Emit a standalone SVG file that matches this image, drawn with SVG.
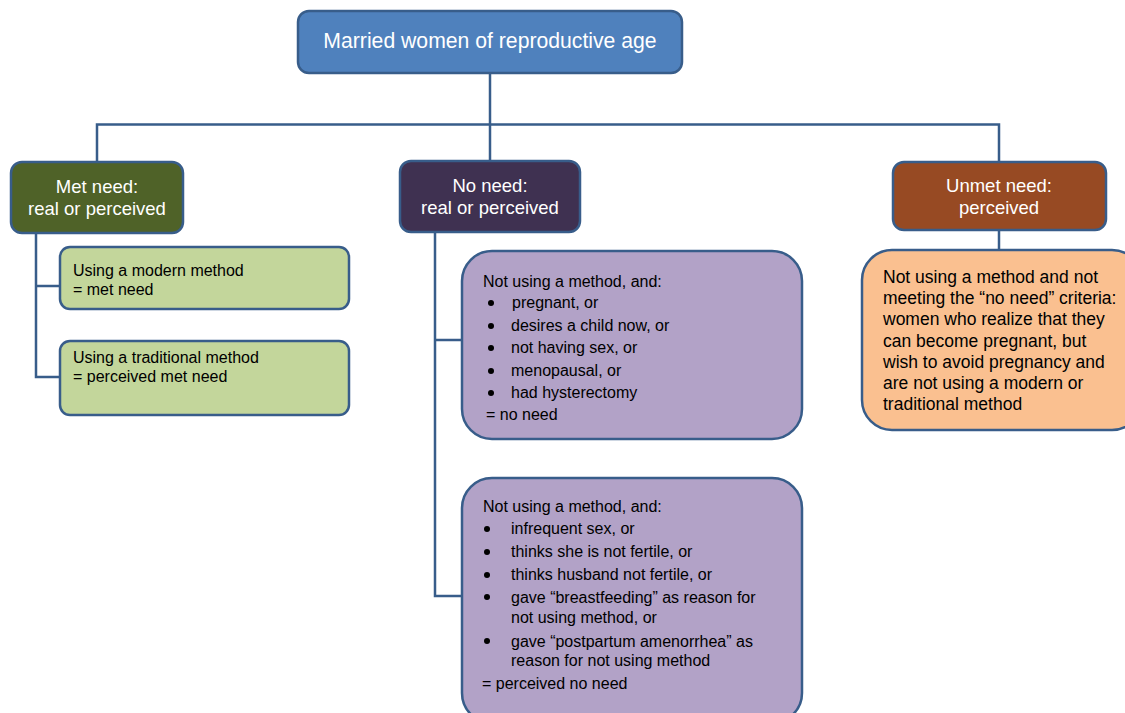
<svg xmlns="http://www.w3.org/2000/svg" width="1125" height="713" viewBox="0 0 1125 713">
<style>
.box{stroke:#385D8A;stroke-width:2.5}
.conn{fill:none;stroke:#385D8A;stroke-width:2.5}
.hdr{font-family:"Liberation Sans",Arial,sans-serif;font-size:18.5px;fill:#ffffff;text-anchor:middle}
.title{font-family:"Liberation Sans",Arial,sans-serif;font-size:21.2px;fill:#ffffff;text-anchor:middle}
.t15{font-family:"Liberation Sans",Arial,sans-serif;font-size:16px;fill:#000000}
.u{font-family:"Liberation Sans",Arial,sans-serif;font-size:17.5px;fill:#000000}
</style>
<rect width="1125" height="713" fill="#ffffff"/>
<g id="connectors">
<path class="conn" d="M490 73 V161"/>
<path class="conn" d="M97 162 V124.5 H999 V162"/>
<path class="conn" d="M36 233 V377 H60 M36 286 H60"/>
<path class="conn" d="M435 232 V596 H462 M435 340 H462"/>
<path class="conn" d="M999 230 V250"/>
</g>
<g id="root">
<rect class="box" x="298" y="11" width="384" height="62" rx="11" fill="#4F81BD"/>
<text class="title" x="490" y="48">Married women of reproductive age</text>
</g>
<g id="met">
<rect class="box" x="11" y="162" width="172" height="71" rx="11" fill="#4F6228"/>
<text class="hdr" x="97" y="193">Met need:</text>
<text class="hdr" x="97" y="215">real or perceived</text>
</g>
<g id="noneed">
<rect class="box" x="400" y="161" width="180" height="71" rx="11" fill="#3F3151"/>
<text class="hdr" x="490" y="192">No need:</text>
<text class="hdr" x="490" y="214">real or perceived</text>
</g>
<g id="unmet">
<rect class="box" x="893" y="162" width="213" height="68" rx="11" fill="#974A23"/>
<text class="hdr" x="999" y="192">Unmet need:</text>
<text class="hdr" x="999" y="214">perceived</text>
</g>
<g id="modern">
<rect class="box" x="60" y="247" width="289" height="62" rx="10" fill="#C3D69B"/>
<text class="t15" x="73" y="276">Using a modern method</text>
<text class="t15" x="73" y="295">= met need</text>
</g>
<g id="traditional">
<rect class="box" x="60" y="341" width="289" height="74" rx="10" fill="#C3D69B"/>
<text class="t15" x="73" y="363">Using a traditional method</text>
<text class="t15" x="73" y="382">= perceived met need</text>
</g>
<g id="noneed-real">
<rect class="box" x="462" y="251" width="340" height="188" rx="30" fill="#B2A2C7"/>
<text class="t15" x="483" y="287">Not using a method, and:</text>
<g fill="#000"><circle cx="491" cy="303" r="3"/><circle cx="491" cy="326" r="3"/><circle cx="491" cy="348" r="3"/><circle cx="491" cy="371" r="3"/><circle cx="491" cy="393" r="3"/></g>
<text class="t15" x="512" y="308">pregnant, or</text>
<text class="t15" x="511" y="331">desires a child now, or</text>
<text class="t15" x="511" y="353">not having sex, or</text>
<text class="t15" x="511" y="376">menopausal, or</text>
<text class="t15" x="511" y="398">had hysterectomy</text>
<text class="t15" x="486" y="420">= no need</text>
</g>
<g id="noneed-perceived">
<rect class="box" x="462" y="478" width="340" height="245" rx="30" fill="#B2A2C7"/>
<text class="t15" x="483" y="512">Not using a method, and:</text>
<g fill="#000"><circle cx="487" cy="529" r="3"/><circle cx="487" cy="552" r="3"/><circle cx="487" cy="575" r="3"/><circle cx="487" cy="597" r="3"/><circle cx="487" cy="641" r="3"/></g>
<text class="t15" x="511" y="534">infrequent sex, or</text>
<text class="t15" x="511" y="557">thinks she is not fertile, or</text>
<text class="t15" x="511" y="580">thinks husband not fertile, or</text>
<text class="t15" x="511" y="603">gave “breastfeeding” as reason for</text>
<text class="t15" x="511" y="623">not using method, or</text>
<text class="t15" x="511" y="647">gave “postpartum amenorrhea” as</text>
<text class="t15" x="511" y="666">reason for not using method</text>
<text class="t15" x="482" y="689">= perceived no need</text>
</g>
<g id="unmet-detail">
<rect class="box" x="862" y="250" width="280" height="180" rx="30" fill="#FAC090"/>
<text class="u" x="883" y="283">Not using a method and not</text>
<text class="u" x="883" y="304">meeting the “no need” criteria:</text>
<text class="u" x="883" y="325">women who realize that they</text>
<text class="u" x="883" y="347">can become pregnant, but</text>
<text class="u" x="883" y="368">wish to avoid pregnancy and</text>
<text class="u" x="883" y="389">are not using a modern or</text>
<text class="u" x="883" y="410">traditional method</text>
</g>
</svg>
